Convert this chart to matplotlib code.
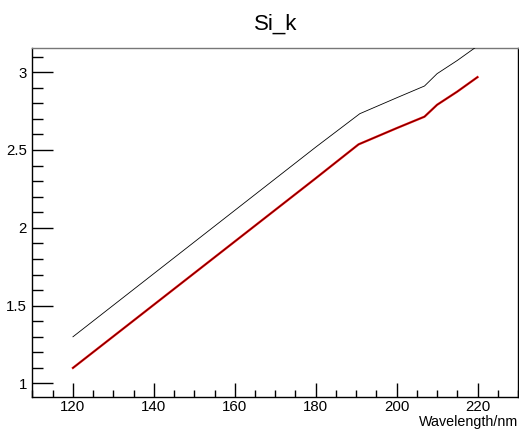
import matplotlib

matplotlib.use("Agg")
import matplotlib.pyplot as plt
from matplotlib.ticker import MultipleLocator

# Si_k: red graph (drawn first, sets frame), black graph drawn on top
wl_red = [120, 130, 140, 150, 160, 170, 180, 190.6, 200, 206.9, 210, 215, 220]
k_red = [1.10, 1.303, 1.506, 1.709, 1.912, 2.115, 2.318, 2.536, 2.640, 2.714, 2.790, 2.875, 2.968]

wl_black = [120, 130, 140, 150, 160, 170, 180, 190.9, 200, 206.9, 210, 215, 220]
k_black = [1.30, 1.503, 1.706, 1.909, 2.112, 2.315, 2.518, 2.733, 2.835, 2.911, 2.990, 3.075, 3.168]

plt.rcParams["font.family"] = ["Liberation Sans", "DejaVu Sans"]

fig = plt.figure(figsize=(5.19, 4.29), dpi=100)
ax = fig.add_axes([0.0626, 0.0746, 0.9354, 0.8134])

ax.plot(wl_red, k_red, color="#e00000", linewidth=1.6, zorder=2)
ax.plot(wl_red, k_red, color="#300000", linewidth=0.4, zorder=3)
ax.plot(wl_black, k_black, color="black", linewidth=0.6, zorder=3)

yr = max(k_red) - min(k_red)
ax.set_xlim(110, 230)
ax.set_ylim(min(k_red) - 0.1 * yr, max(k_red) + 0.1 * yr)

ax.xaxis.set_major_locator(MultipleLocator(20))
ax.xaxis.set_minor_locator(MultipleLocator(5))
ax.yaxis.set_major_locator(MultipleLocator(0.5))
ax.yaxis.set_minor_locator(MultipleLocator(0.1))
ax.yaxis.set_major_formatter(plt.FuncFormatter(lambda v, p: f"{v:g}"))

ax.tick_params(axis="x", which="major", direction="in", length=10, width=1, labelsize=10.8, pad=2, top=False)
ax.tick_params(axis="x", which="minor", direction="in", length=5, width=1, top=False)
ax.tick_params(axis="y", which="major", direction="in", length=15, width=1, labelsize=10.8, pad=4, right=False)
ax.tick_params(axis="y", which="minor", direction="in", length=8, width=1, right=False)

for side in ["left", "bottom", "right", "top"]:
    ax.spines[side].set_linewidth(1)
ax.spines["top"].set_color("#777777")

ax.set_title("Si_k", fontsize=16, pad=13)
fig.text(0.998, 0.001, "Wavelength/nm", ha="right", va="bottom", fontsize=10.3)

fig.savefig("out.png", dpi=100)
